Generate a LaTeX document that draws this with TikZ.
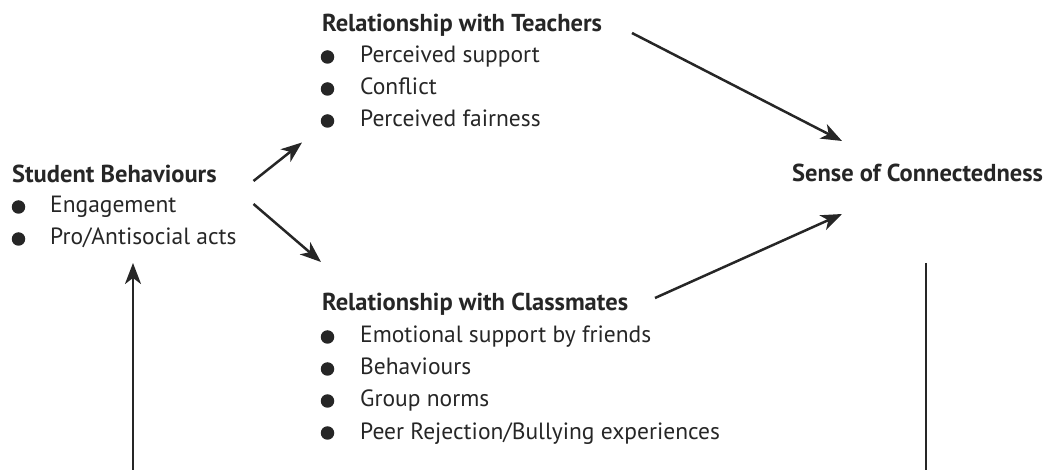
\documentclass[tikz,border=0pt]{standalone}
\usepackage{fontspec}
\setmainfont{PT Sans}
\usetikzlibrary{arrows.meta}
\definecolor{ink}{HTML}{262626}
\begin{document}
\begin{tikzpicture}[x=1pt,y=-1pt,
  head/.style={anchor=base west, inner sep=0pt, text=ink, font=\fontsize{24.5}{28}\selectfont\bfseries},
  item/.style={anchor=base west, inner sep=0pt, text=ink, font=\fontsize{23.5}{28}\selectfont},
  dot/.style={circle, fill=ink, inner sep=0pt, minimum size=13.5pt},
  link/.style={draw=ink, line width=2.5pt, -{Stealth[length=21pt,width=16pt,inset=6pt]}},
  plain/.style={draw=ink, line width=2.5pt}]
\useasboundingbox (0,0) rectangle (1045,470);
% Student Behaviours
\node[head] (sb) at (12,183) {Student Behaviours};
\node[dot] (sbd1) at (18.5,207) {};
\node[item] (sb1) at (50,213) {Engagement};
\node[dot] (sbd2) at (18.5,239) {};
\node[item] (sb2) at (50,245) {Pro/Antisocial acts};
% Teachers
\node[head] (rt) at (322,32) {Relationship with Teachers};
\node[dot] (rtd1) at (327.5,57) {};
\node[item] (rt1) at (360,63) {Perceived support};
\node[dot] (rtd2) at (327.5,89) {};
\node[item] (rt2) at (360,95) {Conflict};
\node[dot] (rtd3) at (327.5,121) {};
\node[item] (rt3) at (360,127) {Perceived fairness};
% Classmates
\node[head] (rc) at (322,311) {Relationship with Classmates};
\node[dot] (rcd1) at (327.5,337) {};
\node[item] (rc1) at (360,343) {Emotional support by friends};
\node[dot] (rcd2) at (327.5,369) {};
\node[item] (rc2) at (360,375) {Behaviours};
\node[dot] (rcd3) at (327.5,401) {};
\node[item] (rc3) at (360,407) {Group norms};
\node[dot] (rcd4) at (327.5,433) {};
\node[item] (rc4) at (360,439) {Peer Rejection/Bullying experiences};
% Sense
\node[head] (sc) at (792,182) {Sense of Connectedness};
% connector ends
\coordinate (a1s) at (253.5,181);
\coordinate (a1e) at (302,142.5);
\coordinate (a2s) at (253.5,204);
\coordinate (a2e) at (321,262);
\coordinate (a3s) at (632,33);
\coordinate (a3e) at (842,141);
\coordinate (a4s) at (655,298);
\coordinate (a4e) at (842,214);
\coordinate (lb) at (133,470);
\coordinate (lt) at (133,263);
\coordinate (rtop) at (926,263);
\coordinate (rbot) at (926,470);
\draw[link] (a1s) -- (a1e);
\draw[link] (a2s) -- (a2e);
\draw[link] (a3s) -- (a3e);
\draw[link] (a4s) -- (a4e);
\draw[link] (lb) -- (lt);
\draw[plain] (rtop) -- (rbot);
\end{tikzpicture}
\end{document}
